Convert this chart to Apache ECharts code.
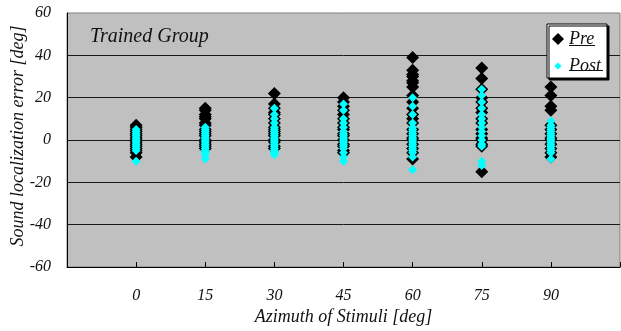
<!DOCTYPE html>
<html><head><meta charset="utf-8">
<script src="https://cdn.jsdelivr.net/npm/echarts@6/dist/echarts.min.js"></script>
<style>html,body{margin:0;padding:0;background:#fff}#c{width:621px;height:331px}</style>
</head><body><div id="c"></div>
<script>
// Azimuth categories (deg)
const azimuths = [0, 15, 30, 45, 60, 75, 90];
const yTicks = [-60, -40, -20, 0, 20, 40, 60];

// Pre-training localization errors (deg), one array per azimuth
const pre0  = [7, 6, 5, 4, 3, 2, 1, 0, -1, -2, -3, -4, -5, -6, -8];
const pre15 = [15, 14, 12, 11, 10, 8, 7, 5, 4, 3, 2, 0, -1, -2, -3, -4];
const pre30 = [22, 17, 15, 13, 12, 10, 8, 6, 5, 4, 3, 2, 0, -1, -3, -4];
const pre45 = [20, 18, 16, 14, 12, 10, 8, 6, 5, 3, 2, 0, -2, -3, -5, -6];
const pre60 = [39, 33, 31, 30, 28, 27, 25, 21, 18, 15, 12, 10, 8, 5, 3, 1, 0, -2, -4, -6, -9];
const pre75 = [34, 29, 24, 20, 18, 15, 13, 10, 8, 5, 3, 1, 0, -2, -3, -15];
const pre90 = [25, 21, 16, 14, 7, 5, 3, 1, 0, -2, -4, -6, -8];

// Post-training localization errors (deg)
const post0  = [5, 4, 3, 2, 1, 0, -1, -2, -3, -4, -5, -10];
const post15 = [6, 5, 4, 3, 2, 1, 0, -1, -2, -3, -4, -5, -6, -7, -9];
const post30 = [15, 12, 10, 8, 6, 5, 4, 3, 2, 1, 0, -1, -2, -3, -4, -5, -6, -7];
const post45 = [17, 14, 10, 8, 6, 4, 3, 2, 1, 0, -1, -2, -3, -4, -6, -8, -10];
const post60 = [20, 16, 12, 8, 6, 5, 4, 3, 2, 1, 0, -1, -2, -3, -4, -5, -6, -8, -14];
const post75 = [24, 21, 18, 15, 12, 10, 8, 6, 4, 2, 0, -2, -3, -10, -12];
const post90 = [9, 7, 6, 5, 4, 3, 2, 1, 0, -1, -2, -3, -4, -5, -6, -9];

const preSets = [pre0, pre15, pre30, pre45, pre60, pre75, pre90];
const postSets = [post0, post15, post30, post45, post60, post75, post90];

function pairs(sets) {
  const out = [];
  azimuths.forEach((a, i) => sets[i].forEach(v => out.push([a, v])));
  return out;
}

const FONT = "'Liberation Serif', 'DejaVu Serif', serif";
const chart = echarts.init(document.getElementById('c'), null, {renderer: 'canvas'});
chart.setOption({
  animation: false,
  backgroundColor: '#fff',
  title: {
    text: 'Trained Group', left: 85, top: 22,
    textStyle: {fontFamily: FONT, fontStyle: 'italic', fontWeight: 'normal', fontSize: 20, color: '#111'}
  },
  grid: {
    left: 67, right: 1, top: 13, bottom: 64, containLabel: false, outerBoundsMode: 'none',
    show: true, backgroundColor: '#c0c0c0', borderColor: '#808080', borderWidth: 1
  },
  legend: {
    orient: 'vertical', left: 547, top: 24,
    padding: [6, 6, 3, 5], itemGap: 9, itemWidth: 12, itemHeight: 12,
    backgroundColor: '#fff', borderColor: '#000', borderWidth: 1,
    shadowColor: '#000', shadowOffsetX: 2, shadowOffsetY: 2, shadowBlur: 0,
    textStyle: {fontFamily: FONT, fontStyle: 'italic', fontSize: 18, color: '#111', lineHeight: 16},
    data: [
      {name: 'Pre', icon: 'diamond'},
      {name: 'Post', icon: 'path://M0,0M10,10M5,2L8,5L5,8L2,5Z'}
    ]
  },
  xAxis: {
    type: 'value', min: -15, max: 105, interval: 15,
    name: 'Azimuth of Stimuli [deg]', nameLocation: 'middle', nameGap: 41, nameMoveOverlap: false,
    nameTextStyle: {fontFamily: FONT, fontStyle: 'italic', fontSize: 18, color: '#111'},
    axisLine: {show: true, onZero: false, lineStyle: {color: '#000', width: 1}},
    axisTick: {show: true, inside: true, length: 5, lineStyle: {color: '#000', width: 1}},
    axisLabel: {
      margin: 21, fontFamily: FONT, fontStyle: 'italic', fontSize: 16, color: '#111',
      formatter: v => (azimuths.indexOf(v) >= 0 ? String(v) : '')
    },
    splitLine: {show: false}
  },
  yAxis: {
    type: 'value', min: yTicks[0], max: yTicks[yTicks.length - 1], interval: 20,
    name: 'Sound localization error [deg]', nameLocation: 'middle', nameGap: 40, nameMoveOverlap: false,
    nameTextStyle: {fontFamily: FONT, fontStyle: 'italic', fontSize: 18, color: '#111', padding: [0, 0, 0, 8]},
    axisLine: {show: true, onZero: false, lineStyle: {color: '#000', width: 1}},
    axisTick: {show: false},
    axisLabel: {margin: 16, fontFamily: FONT, fontStyle: 'italic', fontSize: 16, color: '#111'},
    splitLine: {show: true, showMinLine: false, showMaxLine: false, lineStyle: {color: '#1a1a1a', width: 1}}
  },
  graphic: [
    {type: 'line', shape: {x1: 569, y1: 45.5, x2: 595, y2: 45.5}, style: {stroke: '#111', lineWidth: 1}, z: 100},
    {type: 'line', shape: {x1: 569, y1: 70.5, x2: 603, y2: 70.5}, style: {stroke: '#111', lineWidth: 1}, z: 100}
  ],
  series: [
    {name: 'Pre', type: 'scatter', symbol: 'diamond', symbolSize: 13,
     itemStyle: {color: '#000', opacity: 1}, data: pairs(preSets), z: 2},
    {name: 'Post', type: 'scatter', symbol: 'diamond', symbolSize: 9,
     itemStyle: {color: '#00ffff', opacity: 1}, data: pairs(postSets), z: 3}
  ]
});
</script></body></html>
